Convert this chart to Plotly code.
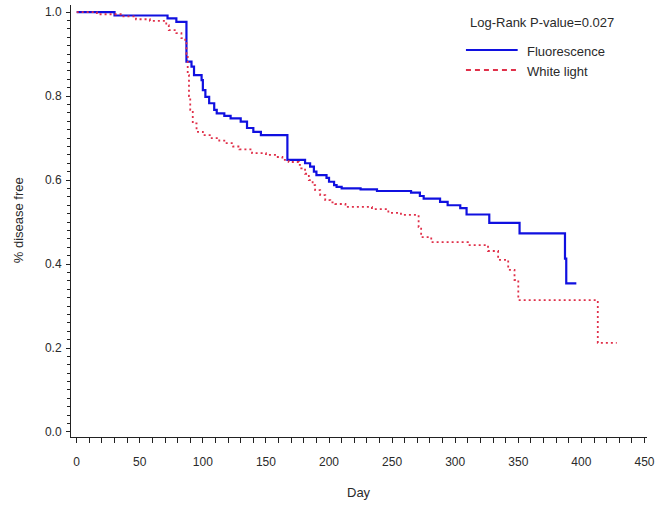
import plotly.graph_objects as go

# Kaplan-Meier step data
fluor_day = [0, 30, 72, 79, 87, 91, 93, 99, 100, 102, 105, 109, 111, 117, 122, 130, 135, 140, 146,
             167, 181, 185, 188, 190, 198, 200, 204, 206, 210, 225, 238, 265, 272, 275, 288, 294,
             304, 309, 327, 351, 387, 388, 396]
fluor_surv = [1.0, 0.992, 0.985, 0.977, 0.882, 0.870, 0.850, 0.838, 0.814, 0.798, 0.783, 0.767, 0.759,
              0.753, 0.747, 0.739, 0.724, 0.715, 0.707, 0.648, 0.640, 0.632, 0.620, 0.612, 0.605,
              0.596, 0.588, 0.584, 0.580, 0.578, 0.574, 0.570, 0.562, 0.556, 0.548, 0.540, 0.533,
              0.518, 0.498, 0.473, 0.413, 0.354, 0.354]

white_day = [0, 16, 36, 47, 58, 71, 73, 79, 83, 86, 87, 88, 89, 90, 92, 95, 100, 107, 113, 118, 124,
             129, 139, 150, 158, 163, 168, 176, 178, 181, 184, 187, 189, 193, 197, 201, 205, 213, 234,
             247, 257, 271, 273, 281, 310, 326, 334, 342, 347, 350, 413, 428]
white_surv = [1.0, 0.995, 0.99, 0.983, 0.979, 0.969, 0.957, 0.95, 0.938, 0.926, 0.90, 0.85, 0.80,
              0.767, 0.735, 0.715, 0.707, 0.70, 0.694, 0.688, 0.680, 0.673, 0.664, 0.660, 0.655,
              0.648, 0.643, 0.636, 0.628, 0.615, 0.600, 0.588, 0.576, 0.564, 0.552, 0.547, 0.543,
              0.536, 0.531, 0.522, 0.517, 0.488, 0.464, 0.452, 0.445, 0.431, 0.410, 0.386, 0.362,
              0.314, 0.212, 0.212]

x_ticks = [0, 50, 100, 150, 200, 250, 300, 350, 400, 450]
y_ticks = [0.0, 0.2, 0.4, 0.6, 0.8, 1.0]
y_ticklabels = ["0.0", "0.2", "0.4", "0.6", "0.8", "1.0"]

series_names = ["Fluorescence", "White light"]
p_value_text = "Log-Rank P-value=0.027"

BLUE = "#1010e0"
RED = "#e0304a"
FONT = "Liberation Sans, Arial, sans-serif"
TXT = "#2a2a2a"

fig = go.Figure()
fig.add_trace(go.Scatter(x=fluor_day, y=fluor_surv, mode="lines", line_shape="hv",
                         name=series_names[0], line=dict(color=BLUE, width=2.2)))
fig.add_trace(go.Scatter(x=white_day, y=white_surv, mode="lines", line_shape="hv",
                         name=series_names[1], line=dict(color=RED, width=1.8, dash="2px,3px")))

W, H = 660, 507
ml, mr, mt, mb = 71, 10, 5, 70
pw, ph = W - ml - mr, H - mt - mb


def px2paper(px, py):
    return (px - ml) / pw, (H - mb - py) / ph


# manual legend
lx0, ly_b = px2paper(468, 50)
lx1, _ = px2paper(520, 50)
_, ly_r = px2paper(468, 70)
tx, ty_b = px2paper(527, 51)
_, ty_r = px2paper(527, 71)
px_, py_ = px2paper(470, 22)

shapes = [
    dict(type="line", xref="paper", yref="paper", x0=lx0, x1=lx1, y0=ly_b, y1=ly_b,
         line=dict(color=BLUE, width=2)),
    dict(type="line", xref="paper", yref="paper", x0=lx0, x1=lx1, y0=ly_r, y1=ly_r,
         line=dict(color=RED, width=2, dash="5px,4px")),
]
annotations = [
    dict(text=p_value_text, xref="paper", yref="paper", x=px_, y=py_, xanchor="left",
         yanchor="middle", showarrow=False, font=dict(family=FONT, size=13, color=TXT)),
    dict(text=series_names[0], xref="paper", yref="paper", x=tx, y=ty_b, xanchor="left",
         yanchor="middle", showarrow=False, font=dict(family=FONT, size=13, color=TXT)),
    dict(text=series_names[1], xref="paper", yref="paper", x=tx, y=ty_r, xanchor="left",
         yanchor="middle", showarrow=False, font=dict(family=FONT, size=13, color=TXT)),
]
ax, ay = px2paper(360, 493)
annotations.append(dict(text="Day", xref="paper", yref="paper", x=ax, y=ay, xanchor="center",
                        yanchor="middle", showarrow=False,
                        font=dict(family=FONT, size=13, color=TXT)))
yx, yy = px2paper(18, 220)
annotations.append(dict(text="% disease free", xref="paper", yref="paper", x=yx, y=yy,
                        xanchor="center", yanchor="middle", textangle=-90, showarrow=False,
                        font=dict(family=FONT, size=13, color=TXT)))

fig.update_layout(
    width=W, height=H,
    margin=dict(l=ml, r=mr, t=mt, b=mb),
    paper_bgcolor="white", plot_bgcolor="white",
    showlegend=False,
    shapes=shapes, annotations=annotations,
    font=dict(family=FONT, size=12, color=TXT),
)
fig.update_xaxes(
    range=[-4.5, 452], tickvals=x_ticks, ticks="outside", ticklen=5, tickcolor="#222",
    showline=True, linecolor="#222", linewidth=1, showgrid=False, zeroline=False,
    ticklabelstandoff=9, tickfont=dict(size=12, color=TXT),
    minor=dict(dtick=10, tick0=0, ticks="outside", ticklen=5, tickcolor="#222"),
)
fig.update_yaxes(
    range=[-0.012, 1.017], tickvals=y_ticks, ticktext=y_ticklabels, ticks="outside",
    ticklen=4, tickcolor="#222", showline=True, linecolor="#222", linewidth=1,
    showgrid=False, zeroline=False, ticklabelstandoff=2, tickfont=dict(size=12, color=TXT),
    minor=dict(dtick=0.02, tick0=0, ticks="outside", ticklen=3, tickcolor="#222"),
)

fig.write_html(
    "out.html",
    config={"displayModeBar": False},
    post_script="document.body.style.margin='0';document.body.style.overflow='hidden';",
)
